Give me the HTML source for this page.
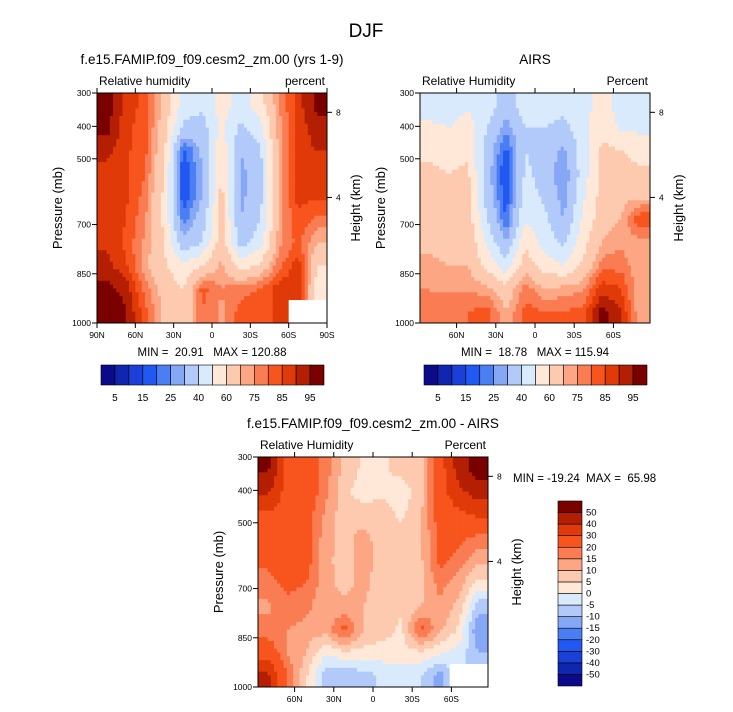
<!DOCTYPE html>
<html><head><meta charset="utf-8"><style>
html,body{margin:0;padding:0;background:#fff;}
svg{display:block;font-family:"Liberation Sans",sans-serif;}
text{white-space:pre;}
</style></head><body>
<svg id="fig" width="733" height="712" viewBox="0 0 733 712" xmlns="http://www.w3.org/2000/svg">
<text x="366" y="37" font-size="19" text-anchor="middle">DJF</text>
<g id="plots"></g>
</svg>
<script>
const colors=['#0a0a8a','#1026b0','#1a40d8','#2258f2','#4a7ef4','#86a6f6','#b2cafa','#d8eafc','#ffe8d8','#fdcab0','#fca684','#fa7c52','#f8541e','#e03a08','#b41e02','#7a0000'];
const rhLevels=[5,10,15,20,25,30,40,50,60,70,75,80,85,90,95];
const diffLevels=[-50,-40,-30,-20,-15,-10,-5,0,5,10,15,20,30,40,50];
const rhLabels=['5','15','25','40','60','75','85','95'];
const diffLabels=['50','40','30','20','15','10','5','0','-5','-10','-15','-20','-30','-40','-50'];
const pressureTicks=[300,400,500,700,850,1000];
const heightTicks=[8,4];
const latLabelsFull=['90N','60N','30N','0','30S','60S','90S'];
const latLabelsShort=['60N','30N','0','30S','60S'];
const modelRH=[
[98,88,83,68,45,42,55,45,55,75,88,97],
[97,87,82,65,38,36,52,38,46,73,87,93],
[92,86,82,62,18,32,58,30,38,72,88,90],
[88,86,80,60,15,30,62,28,35,72,88,88],
[87,86,78,58,16,30,63,28,36,72,87,86],
[88,85,76,58,22,35,64,30,40,72,84,78],
[89,84,74,60,32,40,66,36,45,73,82,70],
[92,86,72,62,52,60,72,55,62,78,88,60],
[97,93,78,66,60,82,75,78,80,88,90,55],
[98,96,82,68,62,80,74,82,83,86,null,null]];
const airsRH=[
[45,45,48,45,35,45,45,45,45,55,45,45],
[52,50,55,40,26,40,40,36,47,58,48,48],
[58,56,58,36,18,40,36,28,45,62,60,55],
[62,60,62,34,14,42,36,24,45,63,65,62],
[64,62,64,36,16,45,38,26,48,64,68,68],
[66,64,66,40,20,50,42,30,52,66,70,85],
[68,66,68,48,30,58,46,38,56,70,74,72],
[72,70,70,56,44,66,55,50,62,78,78,70],
[75,74,74,72,64,78,70,72,74,88,85,70],
[75,78,80,82,70,82,80,80,82,97,90,70]];
const diffRH=[
[52,28,25,18,8,4,4,7,8,25,45,55],
[42,26,25,17,6,3,4,2,8,25,38,45],
[28,26,24,14,7,7,7,4,9,24,28,32],
[25,27,24,12,8,12,7,7,9,23,22,18],
[22,25,23,12,7,13,7,6,9,22,18,11],
[17,22,20,12,8,12,6,7,8,17,12,3],
[14,18,17,10,12,10,6,6,10,14,8,-8],
[17,15,13,12,22,10,7,4,22,11,4,-15],
[25,15,10,1,4,3,3,3,4,1,-2,-10],
[42,20,6,-8,-10,-7,-4,-4,-5,-12,null,null]];

const NS='http://www.w3.org/2000/svg';
const root=document.getElementById('plots');
function mk(tag,attrs,parent,text){const e=document.createElementNS(NS,tag);for(const k in attrs)e.setAttribute(k,attrs[k]);if(text!==undefined)e.textContent=text;(parent||root).appendChild(e);return e;}
function levelIndex(v,levels){let i=0;while(i<levels.length&&v>=levels[i])i++;return i;}
const presFrac={300:0,400:0.145,500:0.286,700:0.572,850:0.786,1000:1};
const hgtFrac={8:0.084,4:0.454};

function val(data,r,c){
  const R=data.length,C=data[0].length;
  r=Math.max(0,Math.min(R-1,r));c=Math.max(0,Math.min(C-1,c));
  let v=data[r][c];
  if(v===null){for(let d=1;d<4&&v===null;d++){for(const [dr,dc] of [[-d,0],[0,-d],[-d,-d]]){const rr=r+dr,cc=c+dc;if(rr>=0&&cc>=0&&data[rr][cc]!==null){v=data[rr][cc];break;}}}}
  return v;
}
function heat(g,data,levels,x0,y0,w,h,name){
  const R=data.length,C=data[0].length,S=6;
  const cw=w/(C*S),ch=h/(R*S);
  for(let i=0;i<R*S;i++)for(let j=0;j<C*S;j++){
    const fr=(i+0.5)/S-0.5,fc=(j+0.5)/S-0.5;
    const r0=Math.floor(fr),c0=Math.floor(fc),tr=fr-r0,tc=fc-c0;
    const v=(1-tr)*((1-tc)*val(data,r0,c0)+tc*val(data,r0,c0+1))+tr*((1-tc)*val(data,r0+1,c0)+tc*val(data,r0+1,c0+1));
    const rc=mk('rect',{x:(x0+j*cw).toFixed(2),y:(y0+i*ch).toFixed(2),width:(cw+0.4).toFixed(2),height:(ch+0.4).toFixed(2),fill:colors[levelIndex(v,levels)]},g);
    
    
  }
  for(let r=0;r<R;r++)for(let c=0;c<C;c++)if(data[r][c]===null){
    const m=mk('rect',{x:x0+c*w/C,y:y0+r*h/R,width:w/C+1,height:h/R+1,fill:'#fff'},g);
    
    
  }
}
function panel(o){
  const g=mk('g',{});
  
  
  const {x0,y0,w,h}=o;
  heat(g,o.data,o.levels,x0,y0,w,h,o.name);
  const fr=mk('rect',{x:x0,y:y0,width:w,height:h,fill:'none',stroke:'#000','stroke-width':1},g);
  
  pressureTicks.forEach(p=>{const y=y0+presFrac[p]*h;
    mk('line',{x1:x0-5,x2:x0,y1:y,y2:y,stroke:'#000'},g);
    const t=mk('text',{x:x0-6,y:y+3,'font-size':8.5,'text-anchor':'end'},g,String(p));
    });
  heightTicks.forEach(k=>{const y=y0+hgtFrac[k]*h;
    mk('line',{x1:x0+w,x2:x0+w+5,y1:y,y2:y,stroke:'#000'},g);
    const t=mk('text',{x:x0+w+9,y:y+3,'font-size':8.5},g,String(k));
    });
  const labs=o.full?latLabelsFull:latLabelsShort;
  labs.forEach((l,i)=>{const x=o.full?x0+i*w/6:x0+w/2+(60-30*i)*(-1)*(115/88)*(w/230);
    mk('line',{x1:x,x2:x,y1:y0+h,y2:y0+h+5,stroke:'#000'},g);mk('line',{x1:x,x2:x,y1:y0,y2:y0-5,stroke:'#000'},g);
    const t=mk('text',{x:x,y:y0+h+15,'font-size':8.5,'text-anchor':'middle'},g,l);
    });
  const tt=mk('text',{x:x0+w/2,y:y0-29,'font-size':13.5,'text-anchor':'middle'},g,o.title);
  
  const lt=mk('text',{x:x0+2,y:y0-8,'font-size':12},g,o.left);
  
  const rt=mk('text',{x:x0+w-2,y:y0-8,'font-size':12,'text-anchor':'end'},g,o.right);
  
  const py=mk('text',{transform:`translate(${x0-35},${y0+h/2}) rotate(-90)`,'font-size':13,'text-anchor':'middle'},g,'Pressure (mb)');
  
  const hy=mk('text',{transform:`translate(${x0+w+33},${y0+h/2}) rotate(-90)`,'font-size':13,'text-anchor':'middle'},g,'Height (km)');
  
  const mm=mk('text',{x:o.mmx,y:o.mmy,'font-size':11.5,'text-anchor':o.mma},g,o.minmax);
  
}
function hbar(x0,y0,name){
  const g=mk('g',{});
  const bw=223/16;
  colors.forEach((c,i)=>{const r=mk('rect',{x:x0+i*bw,y:y0,width:bw,height:20,fill:c,stroke:'#000','stroke-width':0.6},g);
    });
  rhLabels.forEach((l,i)=>{const t=mk('text',{x:x0+(2*i+1)*bw,y:y0+36,'font-size':10,'text-anchor':'middle'},g,l);
    });
}
function vbar(x0,y0){
  const g=mk('g',{});
  const bh=185/16;
  colors.forEach((c,i)=>{const r=mk('rect',{x:x0,y:y0+(15-i)*bh,width:24,height:bh,fill:c,stroke:'#000','stroke-width':0.6},g);
    });
  diffLabels.forEach((l,i)=>{const t=mk('text',{x:x0+28,y:y0+(i+1)*bh+3,'font-size':9.5},g,l);
    });
}
panel({name:'model-panel',data:modelRH,levels:rhLevels,x0:97,y0:93,w:230,h:230,full:true,title:'f.e15.FAMIP.f09_f09.cesm2_zm.00 (yrs 1-9)',left:'Relative humidity',right:'percent',minmax:'MIN =  20.91   MAX = 120.88',mmx:212,mmy:356,mma:'middle'});
panel({name:'airs-panel',data:airsRH,levels:rhLevels,x0:420,y0:93,w:230,h:230,full:false,title:'AIRS',left:'Relative Humidity',right:'Percent',minmax:'MIN =  18.78   MAX = 115.94',mmx:535,mmy:356,mma:'middle'});
panel({name:'difference-panel',data:diffRH,levels:diffLevels,x0:258,y0:457,w:230,h:230,full:false,title:'f.e15.FAMIP.f09_f09.cesm2_zm.00 - AIRS',left:'Relative Humidity',right:'Percent',minmax:'MIN = -19.24  MAX =  65.98',mmx:513,mmy:482,mma:'start'});
hbar(101,365,'model-colorbar');
hbar(424,365,'airs-colorbar');
vbar(558,501);
</script>
</body></html>
